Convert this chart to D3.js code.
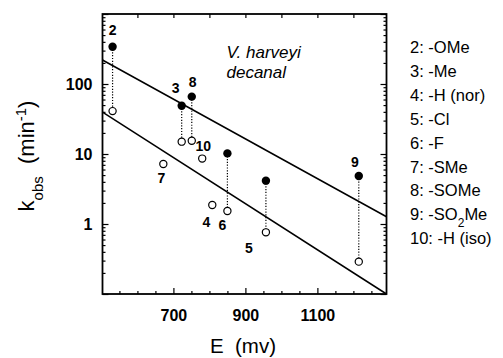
<!DOCTYPE html>
<html>
<head>
<meta charset="utf-8">
<script src="https://cdn.jsdelivr.net/npm/d3@7"></script>
<style>
  body { margin: 0; background: #fff; }
  svg { display: block; }
  text { font-family: "Liberation Sans", Arial, sans-serif; fill: #000; white-space: pre; }
</style>
</head>
<body>
<svg id="chart" width="503" height="358"></svg>
<script>
// substituent number, E (mv), k_obs for the two sets of points
const ids = ["2", "3", "4", "5", "6", "7", "8", "9", "10"];
const potential = [531, 723, 808, 957, 850, 672, 751, 1215, 780];
const kFilled = [341, 49, null, 4.16, 10.2, null, 66, 4.85, null];
const kOpen = [41, 15, 1.87, 0.76, 1.53, 7.2, 15.5, 0.29, 8.6];
const groupNames = ["-OMe", "-Me", "-H (nor)", "-Cl", "-F", "-SMe", "-SOMe", "-SO|2|Me", "-H (iso)"];

// the two fitted lines, given by their end points
const fitE = [503, 1292];
const fitUpper = [220, 1.27];
const fitLower = [39.8, 0.1];

const xLabels = [700, 900, 1100];
const yLabels = [1, 10, 100];

const svg = d3.select("#chart");
const margin = {left: 102.5, right: 116.5, top: 14, bottom: 64};
const width = 503 - margin.left - margin.right;
const height = 358 - margin.top - margin.bottom;

const x = d3.scaleLinear().domain([503, 1292]).range([0, width]);
const y = d3.scaleLog().domain([0.1, 1000]).range([height, 0]);

const g = svg.append("g")
    .attr("transform", `translate(${margin.left},${margin.top})`);

// ticks
const yAll = y.ticks();
const yMajor = yAll.filter(d => Math.abs(Math.log10(d) - Math.round(Math.log10(d))) < 1e-9);
const yMinor = yAll.filter(d => !yMajor.includes(d));
const xMinor = d3.range(550, 1300, 50).filter(d => !xLabels.includes(d));

function clean(sel) {
    sel.select(".domain").remove();
    sel.selectAll("line").attr("stroke", "#000").attr("stroke-width", 1.2);
}

g.append("g").call(d3.axisLeft(y).tickValues(yMajor).tickSize(-6).tickPadding(10)
        .tickFormat(d => yLabels.includes(d) ? d : ""))
    .call(clean)
    .selectAll("text").attr("font-size", 16).attr("font-weight", "bold")
    .attr("font-family", "Liberation Sans, Arial, sans-serif");
g.append("g").call(d3.axisLeft(y).tickValues(yMinor).tickSize(-3).tickFormat(""))
    .call(clean);
g.append("g").attr("transform", `translate(${width},0)`)
    .call(d3.axisRight(y).tickValues(yMajor).tickSize(-6).tickFormat(""))
    .call(clean);
g.append("g").attr("transform", `translate(${width},0)`)
    .call(d3.axisRight(y).tickValues(yMinor).tickSize(-3).tickFormat(""))
    .call(clean);

g.append("g").attr("transform", `translate(0,${height})`)
    .call(d3.axisBottom(x).tickValues(xLabels).tickSize(-6).tickPadding(16).tickFormat(d3.format("d")))
    .call(clean)
    .selectAll("text").attr("font-size", 16).attr("font-weight", "bold")
    .attr("font-family", "Liberation Sans, Arial, sans-serif");
g.append("g").attr("transform", `translate(0,${height})`)
    .call(d3.axisBottom(x).tickValues(xMinor).tickSize(-3).tickFormat(""))
    .call(clean);
g.append("g")
    .call(d3.axisTop(x).tickValues(d3.range(600, 1300, 100)).tickSize(-4).tickFormat(""))
    .call(clean);

// frame
g.append("rect")
    .attr("width", width).attr("height", height)
    .attr("fill", "none").attr("stroke", "#000").attr("stroke-width", 1.8);

// fitted lines
const line = d3.line().x(d => x(d[0])).y(d => y(d[1]));
[fitUpper, fitLower].forEach(k => {
    g.append("path")
        .attr("d", line(fitE.map((e, i) => [e, k[i]])))
        .attr("fill", "none").attr("stroke", "#000").attr("stroke-width", 1.5);
});

const pts = ids.map((id, i) => ({id, e: potential[i], kf: kFilled[i], ko: kOpen[i]}));

// dotted connectors
g.append("g").selectAll("line")
    .data(pts.filter(d => d.kf != null))
    .enter().append("line")
    .attr("x1", d => x(d.e)).attr("x2", d => x(d.e))
    .attr("y1", d => y(d.kf)).attr("y2", d => y(d.ko))
    .attr("stroke", "#000").attr("stroke-width", 1.2)
    .attr("stroke-dasharray", "1.2,1.6");

g.append("g").selectAll("circle")
    .data(pts)
    .enter().append("circle")
    .attr("cx", d => x(d.e)).attr("cy", d => y(d.ko))
    .attr("r", 3.6)
    .attr("fill", "#fff").attr("stroke", "#000").attr("stroke-width", 1.2);

g.append("g").selectAll("circle")
    .data(pts.filter(d => d.kf != null))
    .enter().append("circle")
    .attr("cx", d => x(d.e)).attr("cy", d => y(d.kf))
    .attr("r", 4.2)
    .attr("fill", "#000");

// number labels next to their points
const labelShift = {
    "2": [0, -12], "3": [-6, -13], "8": [1, -10], "9": [-4, -9],
    "10": [1, -8], "7": [-2, 19], "4": [-6, 22], "6": [-5, 19], "5": [-17, 21]
};
g.append("g").selectAll("text")
    .data(pts)
    .enter().append("text")
    .attr("x", d => x(d.e) + labelShift[d.id][0])
    .attr("y", d => y(d.kf != null && d.id !== "5" && d.id !== "6" ? d.kf : d.ko) + labelShift[d.id][1])
    .attr("text-anchor", "middle")
    .attr("font-size", 14).attr("font-weight", "bold")
    .text(d => d.id);

// species note
g.append("text").attr("x", 124).attr("y", 44)
    .attr("font-size", 17).attr("font-style", "italic").text("V. harveyi");
g.append("text").attr("x", 124).attr("y", 64)
    .attr("font-size", 17).attr("font-style", "italic").text("decanal");

// axis titles
svg.append("text")
    .attr("x", 243).attr("y", 353)
    .attr("text-anchor", "middle").attr("font-size", 20.5)
    .text("E  (mv)");

const yt = svg.append("text")
    .attr("transform", "translate(34,156) rotate(-90)")
    .attr("text-anchor", "middle").attr("font-size", 22);
yt.append("tspan").text("k");
yt.append("tspan").attr("font-size", 15).attr("baseline-shift", "sub").text("obs");
yt.append("tspan").text("  (min");
yt.append("tspan").attr("font-size", 15).attr("baseline-shift", "super").text("-1");
yt.append("tspan").text(")");

// legend
const legend = svg.append("g").attr("transform", "translate(410,0)");
legend.selectAll("text")
    .data(groupNames)
    .enter().append("text")
    .attr("y", (d, i) => 53 + i * 23.9)
    .attr("font-size", 16.5)
    .each(function(d, i) {
        const parts = (ids[i] + ": " + d).split("|");
        const t = d3.select(this);
        parts.forEach((p, j) => {
            const s = t.append("tspan").text(p);
            if (j === 1) s.attr("font-size", 12).attr("baseline-shift", "sub");
        });
    });
</script>
</body>
</html>
